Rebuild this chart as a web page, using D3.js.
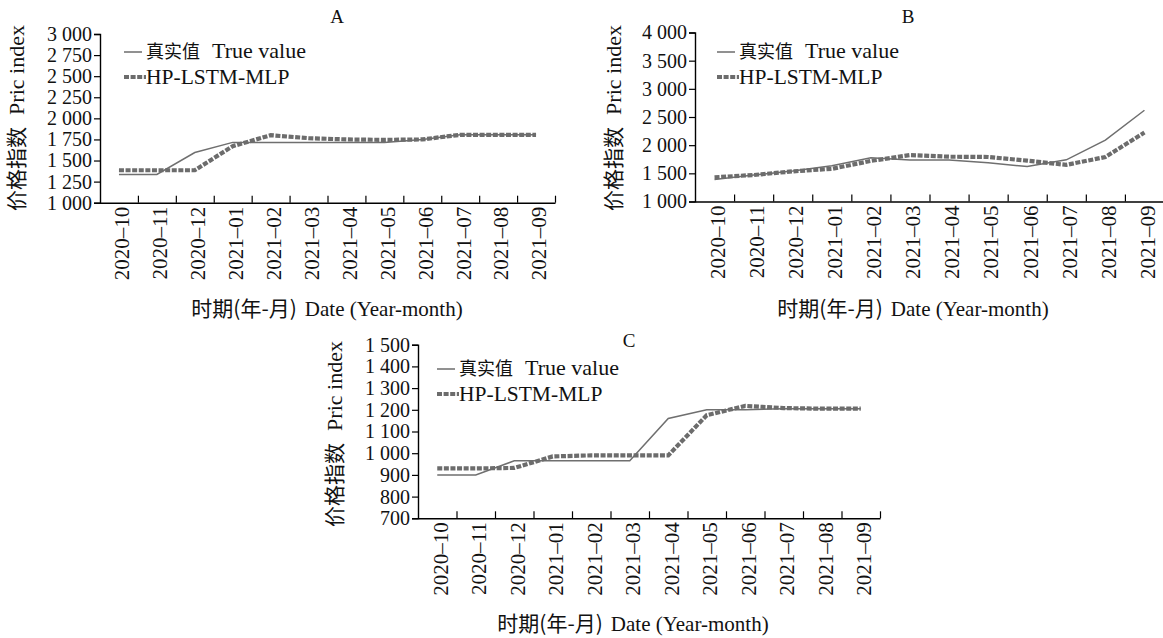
<!DOCTYPE html>
<html><head><meta charset="utf-8">
<script src="https://cdn.jsdelivr.net/npm/d3@7"></script>
<style>
html,body{margin:0;padding:0;background:#fff;}
svg text{font-family:"Liberation Serif","Noto Sans CJK SC",serif;fill:#111;}
</style></head>
<body><svg id="c" width="1163" height="638"></svg>
<script>
const months = ["2020–10","2020–11","2020–12","2021–01","2021–02","2021–03","2021–04","2021–05","2021–06","2021–07","2021–08","2021–09"];
const trueA = [1335,1335,1595,1715,1715,1715,1715,1715,1750,1805,1805,1805];
const predA = [1385,1385,1385,1670,1800,1765,1750,1745,1750,1805,1805,1805];
const trueB = [1390,1470,1540,1635,1775,1735,1735,1690,1620,1740,2090,2620];
const predB = [1430,1470,1535,1580,1720,1825,1795,1790,1725,1650,1790,2225];
const trueC = [900,900,965,965,965,965,1160,1200,1200,1205,1205,1205];
const predC = [930,930,932,985,990,990,990,1175,1218,1208,1205,1205];
const ticksA = [1000,1250,1500,1750,2000,2250,2500,2750,3000];
const ticksB = [1000,1500,2000,2500,3000,3500,4000];
const ticksC = [700,800,900,1000,1100,1200,1300,1400,1500];
const legendTrueCN = "真实值", legendTrueEN = "True value", legendPred = "HP-LSTM-MLP";
const yTitleCN = "价格指数", yTitleEN = "Pric index";
const xTitleCN = "时期(年-月)", xTitleEN = "Date (Year-month)";

const svg = d3.select("#c");
const fmt = d3.formatLocale({decimal:".",thousands:"\u2009",grouping:[3],currency:["",""]}).format(",");
const fmtTick = v => v >= 1000 ? fmt(v).replace("\u2009"," ") : String(v);

const panels = [
  {name:"A", t:trueA, p:predA, ticks:ticksA, x0:100, x1:555, yb:202.7, yt:34, dom:[1000,3000],
   title:[337,23], ytitle:[24,118], xtitle:[327,316], leg:[124,52]},
  {name:"B", t:trueB, p:predB, ticks:ticksB, x0:695, x1:1164, yb:201.5, yt:32.5, dom:[1000,4000],
   title:[908,23], ytitle:[621,118], xtitle:[913,316], leg:[717,52]},
  {name:"C", t:trueC, p:predC, ticks:ticksC, x0:418, x1:880, yb:518.3, yt:344.7, dom:[700,1500],
   title:[629,347], ytitle:[342,434], xtitle:[633,631], leg:[437,369]}
];

panels.forEach(P => {
  const g = svg.append("g");
  const x = d3.scaleBand().domain(months).range([P.x0, P.x1]).padding(0);
  const xb = d3.scaleLinear().domain([0, months.length]).range([P.x0, P.x1]);
  const y = d3.scaleLinear().domain(P.dom).range([P.yb, P.yt]);

  const ya = g.append("g").attr("transform",`translate(${P.x0},0)`)
    .call(d3.axisLeft(y).tickValues(P.ticks).tickFormat(fmtTick).tickSize(6).tickPadding(2));
  ya.select(".domain").attr("stroke","#000").attr("stroke-width",1.4);
  ya.selectAll(".tick line").attr("stroke","#000").attr("stroke-width",1.2);
  ya.selectAll(".tick text").style("font-size","20px").attr("fill","#111");

  const xa = g.append("g").attr("transform",`translate(0,${P.yb})`)
    .call(d3.axisBottom(xb).tickValues(d3.range(1, months.length+1)).tickFormat("").tickSizeInner(-7).tickSizeOuter(0));
  xa.select(".domain").attr("stroke","#000").attr("stroke-width",1.4);
  xa.selectAll(".tick line").attr("stroke","#000").attr("stroke-width",1.2);

  const xl = g.append("g").attr("transform",`translate(0,${P.yb})`)
    .call(d3.axisBottom(x).tickSize(0).tickPadding(0));
  xl.select(".domain").remove();
  xl.selectAll(".tick text")
    .attr("transform","translate(3,4) rotate(-90)")
    .attr("text-anchor","end").attr("dy","0.35em").attr("x",0).attr("y",0)
    .style("font-size","21px").attr("fill","#111");

  const line = d3.line().x((d,i)=>x(months[i]) + x.bandwidth()/2).y(d=>y(d));
  g.append("path").datum(P.t).attr("d",line).attr("fill","none")
    .attr("stroke","#6f6f6f").attr("stroke-width",1.5);
  g.append("path").datum(P.p).attr("d",line).attr("fill","none")
    .attr("stroke","#6c6c6c").attr("stroke-width",4.2).attr("stroke-dasharray","5,1.6");

  const [lx, ly] = P.leg;
  g.append("line").attr("x1",lx).attr("x2",lx+18).attr("y1",ly).attr("y2",ly)
    .attr("stroke","#555").attr("stroke-width",1.3);
  g.append("text").attr("x",lx+22).attr("y",ly+6).text(legendTrueCN)
    .style("font-size","18px").style("font-family","'Noto Sans CJK SC'");
  g.append("text").attr("x",lx+88).attr("y",ly+6).text(legendTrueEN).style("font-size","22px");
  g.append("line").attr("x1",lx).attr("x2",lx+22).attr("y1",ly+25).attr("y2",ly+25)
    .attr("stroke","#6c6c6c").attr("stroke-width",4.2).attr("stroke-dasharray","5,1.6");
  g.append("text").attr("x",lx+22).attr("y",ly+32).text(legendPred).style("font-size","21.5px");

  g.append("text").attr("x",P.title[0]).attr("y",P.title[1]).attr("text-anchor","middle")
    .style("font-size","19px").text(P.name);

  const yt = g.append("text").attr("transform",`translate(${P.ytitle[0]},${P.ytitle[1]}) rotate(-90)`)
    .attr("text-anchor","middle");
  yt.append("tspan").text(yTitleCN).style("font-size","21px").style("font-family","'Noto Sans CJK SC'");
  yt.append("tspan").text(yTitleEN).style("font-size","22px").attr("dx",12);

  const xt = g.append("text").attr("x",P.xtitle[0]).attr("y",P.xtitle[1]).attr("text-anchor","middle");
  xt.append("tspan").text(xTitleCN).style("font-size","21px").style("font-family","'Noto Sans CJK SC'");
  xt.append("tspan").text(xTitleEN).style("font-size","21px").attr("dx",8);
});
</script></body></html>
